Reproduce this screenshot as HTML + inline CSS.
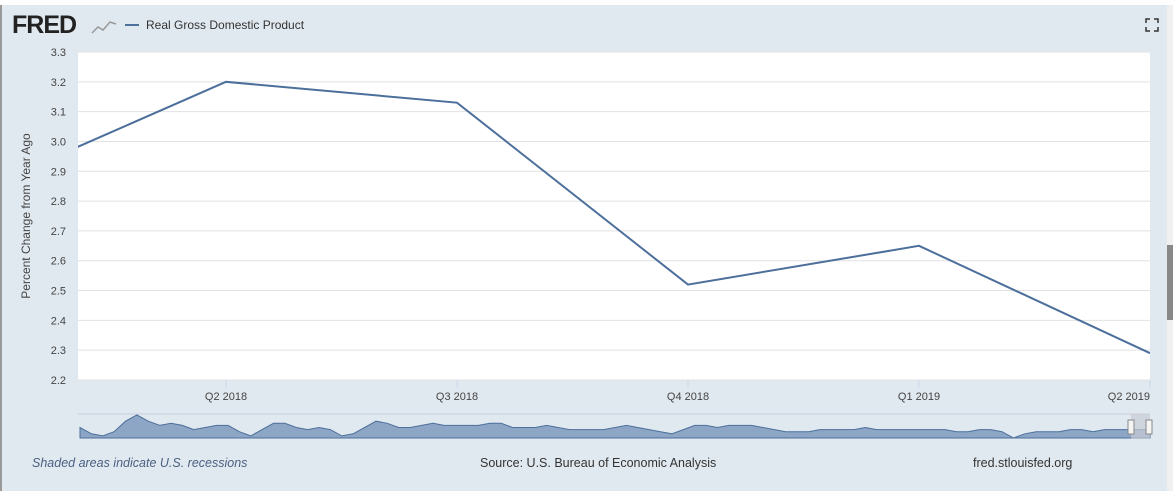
<!DOCTYPE html>
<html><head><meta charset="utf-8"><style>
body{margin:0;width:1173px;height:491px;overflow:hidden;background:#fff;font-family:"Liberation Sans",sans-serif}
#wrap{position:absolute;left:0;top:5px;width:1165px;height:486px;background:#e1e9f0;border-left:2px solid #999}
#sb{position:absolute;left:1167px;top:5px;width:6px;height:486px;background:#f0f0f0}
#thumb{position:absolute;left:1167px;top:245px;width:6px;height:75px;background:#888}
</style></head><body>
<div id="wrap"></div>
<div id="sb"></div>
<div id="thumb"></div>
<svg id="c" width="1173" height="491" style="position:absolute;left:0;top:0" font-family="Liberation Sans, sans-serif">
<text x="12" y="33" font-size="25" font-weight="bold" fill="#222" letter-spacing="-1">FRED</text>
<polyline points="92,33 98,27 103,30 110,22 116,24" fill="none" stroke="#999" stroke-width="1.5"/>
<line x1="125" y1="25" x2="139" y2="25" stroke="#4c6f9b" stroke-width="2"/>
<text x="146" y="29" font-size="12" fill="#333">Real Gross Domestic Product</text>
<g stroke="#333" stroke-width="1.5" fill="none"><path d="M1146,23v-4h4M1154,19h4v4M1158,27v4h-4M1150,31h-4v-4"/></g>
<rect x="78" y="52" width="1072" height="328" fill="#fff"/>
<g id="grid"></g><g id="yl"></g><g id="xl"></g>
<text transform="translate(30,216) rotate(-90)" text-anchor="middle" font-size="12" fill="#444">Percent Change from Year Ago</text>
<g id="series"></g>
<line x1="78" y1="414" x2="1150" y2="414" stroke="#ccd"/>
<g id="nav"></g>
<rect x="1131" y="414" width="19" height="25" fill="#c8ccd4" opacity="0.7"/>
<rect x="1128" y="420" width="6" height="14" fill="#f4f4f4" stroke="#888"/>
<rect x="1146" y="420" width="6" height="14" fill="#f4f4f4" stroke="#888"/>
<text x="32" y="467" font-size="12.5" font-style="italic" fill="#4a5f80">Shaded areas indicate U.S. recessions</text>
<text x="480" y="467" font-size="12.5" fill="#333">Source: U.S. Bureau of Economic Analysis</text>
<text x="973" y="467" font-size="12.5" fill="#333">fred.stlouisfed.org</text>
</svg>
<script>
const categories=["Q1 2018","Q2 2018","Q3 2018","Q4 2018","Q1 2019","Q2 2019"];
const values=[2.86,3.20,3.13,2.52,2.65,2.29];
const xTickLabels=["Q2 2018","Q3 2018","Q4 2018","Q1 2019","Q2 2019"];
const yTicks=[2.2,2.3,2.4,2.5,2.6,2.7,2.8,2.9,3.0,3.1,3.2,3.3];
const navValues=[5,2,1,3,8,11,8,6,7,6,4,5,6,6,3,1,4,7,7,5,4,5,4,1,2,5,8,7,5,5,6,7,6,6,6,6,7,7,5,5,5,6,5,4,4,4,4,5,6,5,4,3,2,4,6,6,5,6,6,6,5,4,3,3,3,4,4,4,4,5,4,4,4,4,4,4,4,3,3,4,4,3,0,2,3,3,3,4,4,3,4,4,4,4,4];
const NS="http://www.w3.org/2000/svg";
const X0=78,X1=1150,Y0=380,Y1=52;
function xs(i){return 226+(i-1)*231;}
function ys(v){return Y0-(v-2.2)/(3.3-2.2)*(Y0-Y1);}
function mk(t,a,p){const e=document.createElementNS(NS,t);for(const k in a)e.setAttribute(k,a[k]);(p||document.getElementById('c')).appendChild(e);return e;}
const grid=document.getElementById('grid'),yl=document.getElementById('yl'),xl=document.getElementById('xl');
yTicks.forEach(v=>{
 const l=mk('line',{x1:X0,x2:X1,y1:ys(v),y2:ys(v),stroke:'#e2e2e2'},grid);
 
 
 const t=mk('text',{x:66,y:ys(v)+4,'text-anchor':'end','font-size':11,fill:'#444'},yl);
 t.textContent=v.toFixed(1);
 
 
});
xTickLabels.forEach((s,k)=>{
 const x=xs(k+1);
 const l=mk('line',{x1:x,x2:x,y1:Y0,y2:Y0+8,stroke:'#ccd6eb'},xl);
 
 
 const t=mk('text',{x:k==4?x:x,y:Y0+20,'text-anchor':k==4?'end':'middle','font-size':11,fill:'#444'},xl);
 t.textContent=s;
 
 
});
mk('clipPath',{id:'cp'}).appendChild(Object.assign(document.createElementNS(NS,'rect'),{}));
document.querySelector('#cp rect').setAttribute('x',X0);document.querySelector('#cp rect').setAttribute('y',Y1);
document.querySelector('#cp rect').setAttribute('width',X1-X0);document.querySelector('#cp rect').setAttribute('height',Y0-Y1);
const pl=mk('polyline',{points:values.map((v,i)=>xs(i)+','+ys(v)).join(' '),fill:'none',stroke:'#4c6f9b','stroke-width':2,'clip-path':'url(#cp)'},document.getElementById('series'));


const nb=438,nx=i=>80+i*(1070/(navValues.length-1)),ny=v=>nb-v*2.1;
let d='M80,'+nb+' '+navValues.map((v,i)=>'L'+nx(i).toFixed(1)+','+ny(v)).join(' ')+' L1150,'+nb+'Z';
const na=mk('path',{d:d,fill:'#8ea6c6',stroke:'#4c6f9b','stroke-width':1},document.getElementById('nav'));


</script>
</body></html>
